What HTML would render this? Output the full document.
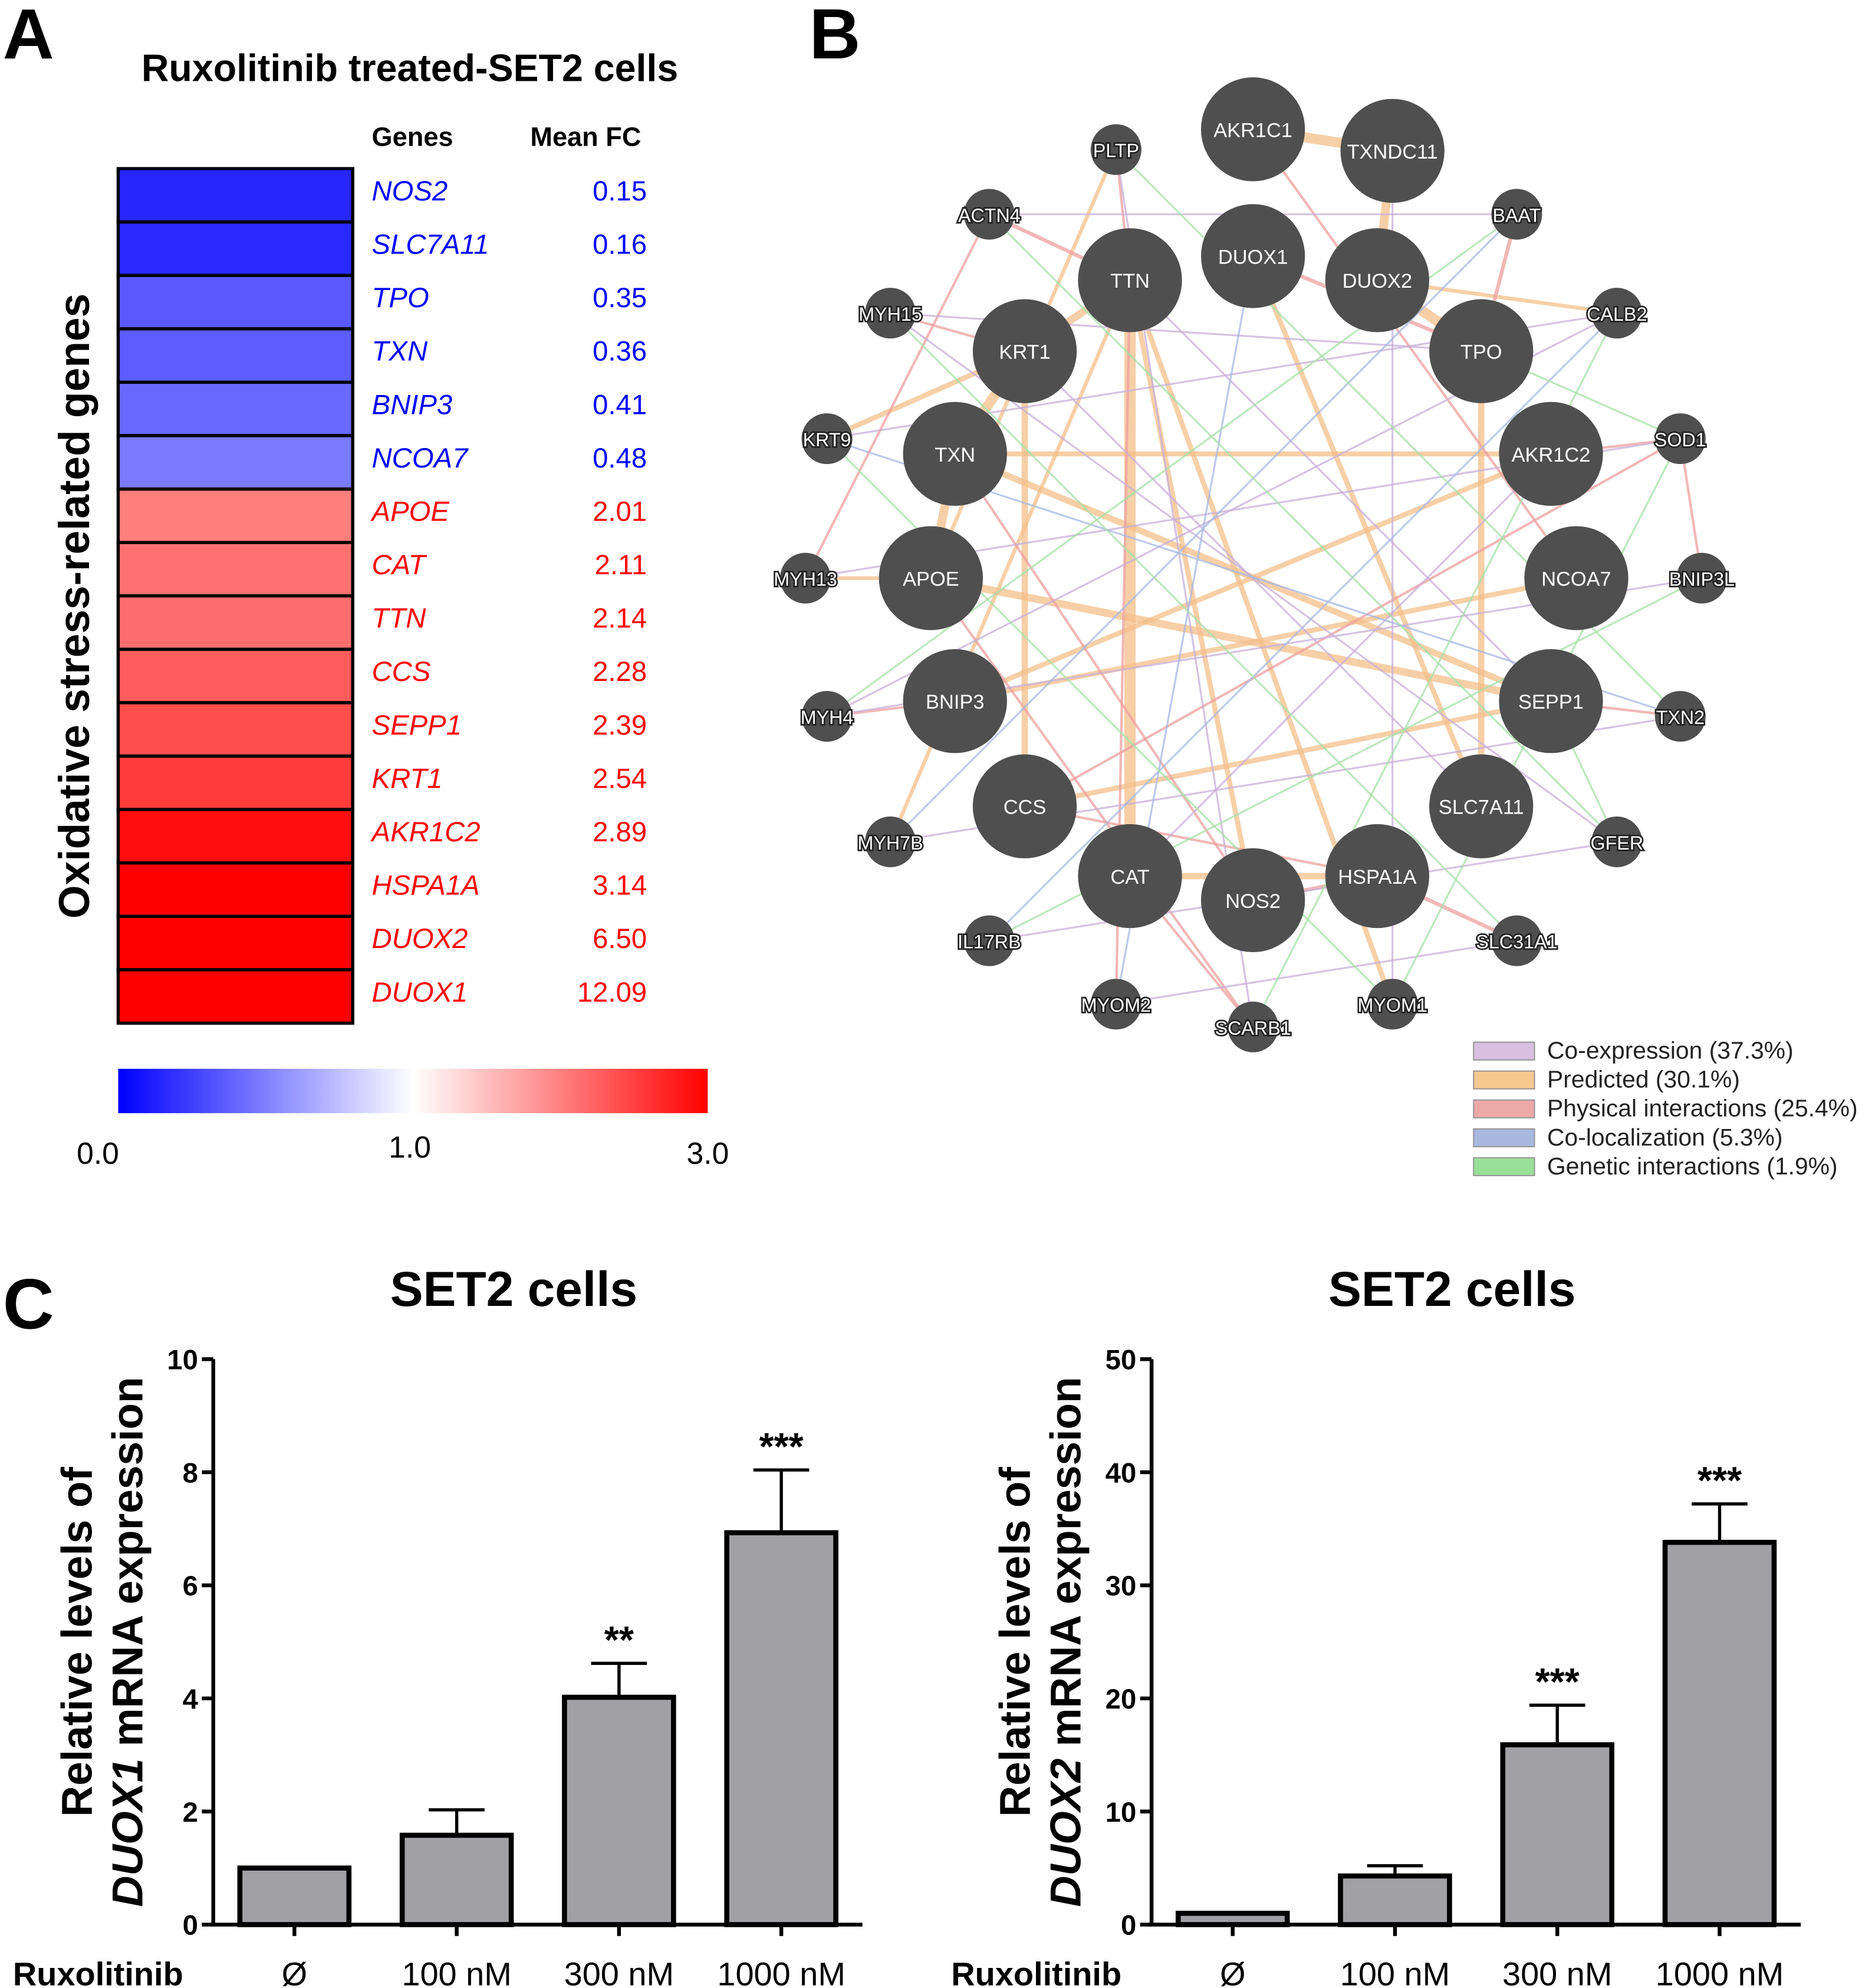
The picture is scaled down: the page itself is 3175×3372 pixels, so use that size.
<!DOCTYPE html>
<html><head><meta charset="utf-8"><style>
html,body{margin:0;padding:0;background:#fff}
svg{display:block;font-family:"Liberation Sans",Arial,sans-serif}
</style></head><body>
<svg id="s" width="3175" height="3372" viewBox="0 0 1476 1568" xmlns="http://www.w3.org/2000/svg">
<text x="2" y="46" font-size="56" font-weight="bold">A</text>
<text x="323" y="64" font-size="30" font-weight="bold" text-anchor="middle">Ruxolitinib treated-SET2 cells</text>
<text x="293" y="115" font-size="21" font-weight="bold">Genes</text>
<text x="418" y="115" font-size="21" font-weight="bold">Mean FC</text>
<text transform="translate(70,478) rotate(-90)" font-size="34" font-weight="bold" text-anchor="middle">Oxidative stress-related genes</text>
<g id="heat"></g>
<defs><linearGradient id="cb" x1="0" x2="1"><stop offset="0" stop-color="#0000ff"/><stop offset="0.5" stop-color="#ffffff"/><stop offset="1" stop-color="#ff0000"/></linearGradient></defs>
<rect x="93" y="843" width="465" height="35" fill="url(#cb)"/>
<text x="77" y="918" font-size="24" text-anchor="middle">0.0</text>
<text x="323" y="913" font-size="24" text-anchor="middle">1.0</text>
<text x="558" y="918" font-size="24" text-anchor="middle">3.0</text>

<text x="638" y="46" font-size="56" font-weight="bold">B</text>
<g id="edges"></g>
<g id="nodes"></g>
<g id="legend"></g>

<text x="2" y="1048" font-size="56" font-weight="bold">C</text>
<g id="c1"></g>
<g id="c2"></g>
</svg>
<script>
const NS="http://www.w3.org/2000/svg";
function mk(p,t,a,txt){const e=document.createElementNS(NS,t);for(const k in a)e.setAttribute(k,a[k]);if(txt!==undefined)e.textContent=txt;p.appendChild(e);return e;}

// Heatmap data
const heatGenes=["NOS2","SLC7A11","TPO","TXN","BNIP3","NCOA7","APOE","CAT","TTN","CCS","SEPP1","KRT1","AKR1C2","HSPA1A","DUOX2","DUOX1"];
const heatValues=[0.15,0.16,0.35,0.36,0.41,0.48,2.01,2.11,2.14,2.28,2.39,2.54,2.89,3.14,6.50,12.09];
const heatLabels=["0.15","0.16","0.35","0.36","0.41","0.48","2.01","2.11","2.14","2.28","2.39","2.54","2.89","3.14","6.50","12.09"];
function heatColor(v){if(v<1){const c=Math.round(255*v);return `rgb(${c},${c},255)`;}const t=Math.min(1,(v-1)/2);const c=Math.round(255*(1-t));return `rgb(255,${c},${c})`;}
const heat=document.getElementById('heat');
const rowH=(807-133)/heatGenes.length;
heatGenes.forEach((g,i)=>{
 const y=133+i*rowH,v=heatValues[i];
 const r=mk(heat,'rect',{x:93,y:y,width:185,height:rowH,fill:heatColor(v),stroke:'#000','stroke-width':2.5});
 
 
 const col=v<1?'#0000ff':'#ff0000';
 const t1=mk(heat,'text',{x:293,y:y+rowH/2+4,'font-size':22,'font-style':'italic',fill:col},g);
 
 
 const t2=mk(heat,'text',{x:510,y:y+rowH/2+4,'font-size':22,'text-anchor':'end',fill:col},heatLabels[i]);
 
 
});

// Network
const nodeNames=["AKR1C1","TXNDC11","PLTP","BAAT","ACTN4","TTN","DUOX1","DUOX2","MYH15","CALB2","KRT1","TPO","KRT9","TXN","AKR1C2","SOD1","MYH13","APOE","NCOA7","BNIP3L","MYH4","BNIP3","SEPP1","TXN2","CCS","SLC7A11","MYH7B","GFER","CAT","NOS2","HSPA1A","IL17RB","SLC31A1","MYOM2","SCARB1","MYOM1"];
const nodeX=[988,1098,880,1196,780,891,988,1086,702,1275,808,1168,652,753,1223,1325,635,734,1243,1342,652,753,1223,1325,808,1168,702,1275,891,988,1086,780,1196,880,988,1098];
const nodeY=[102,119,118,169,169,221,202,221,247,247,277,277,346,358,358,346,456,456,456,456,565,553,553,565,636,636,664,664,691,710,691,742,742,792,810,792];
const nodeBig=[1,1,0,0,0,1,1,1,0,0,1,1,0,1,1,0,0,1,1,0,0,1,1,0,1,1,0,0,1,1,1,0,0,0,0,0];
const edgeList=[
["TTN","CAT","#f5c08a",9],["KRT1","TXN","#f5c08a",8],["TXN","APOE","#f5c08a",7],["AKR1C1","TXNDC11","#f5c08a",8],["TXNDC11","DUOX2","#f5c08a",7],
["DUOX2","TPO","#f5c08a",8],["TPO","SLC7A11","#f5c08a",5],["APOE","SEPP1","#f5c08a",6],["TXN","SEPP1","#f5c08a",5],["KRT1","CCS","#f5c08a",5],
["TTN","KRT1","#f5c08a",6],["BNIP3","NCOA7","#f5c08a",4],["CAT","HSPA1A","#f5c08a",5],["TTN","MYOM1","#f5c08a",4],["DUOX1","SLC7A11","#f5c08a",4],
["AKR1C2","BNIP3","#f5c08a",4],["TXN","AKR1C2","#f5c08a",4],["PLTP","APOE","#f5c08a",3],["TTN","NOS2","#f5c08a",4],["SEPP1","CCS","#f5c08a",4],
["KRT1","KRT9","#f5c08a",4],["MYH13","APOE","#f5c08a",3],["TTN","MYH7B","#f5c08a",3],["DUOX2","CALB2","#f5c08a",3],
["NOS2","HSPA1A","#eea0a0",3],["HSPA1A","SLC31A1","#eea0a0",3],["TPO","BAAT","#eea0a0",3],["ACTN4","TTN","#eea0a0",3],["PLTP","TTN","#eea0a0",2],
["CAT","SCARB1","#eea0a0",2],["SOD1","CCS","#eea0a0",2],["AKR1C2","SOD1","#eea0a0",2],["TXN","NOS2","#eea0a0",2],["KRT1","MYH15","#eea0a0",2],
["APOE","SCARB1","#eea0a0",2],["DUOX1","TPO","#eea0a0",3],["BNIP3L","SOD1","#eea0a0",2],["TXN2","SEPP1","#eea0a0",2],["MYH4","BNIP3","#eea0a0",2],
["AKR1C1","NCOA7","#eea0a0",2],["CCS","HSPA1A","#eea0a0",2],["TTN","MYOM2","#eea0a0",2],["ACTN4","MYH13","#eea0a0",2],
["MYH15","TPO","#c8b0d8",1.5],["KRT9","CALB2","#c8b0d8",1.5],["MYH13","SOD1","#c8b0d8",1.5],["MYH4","BNIP3L","#c8b0d8",1.5],["MYH7B","TXN2","#c8b0d8",1.5],
["IL17RB","GFER","#c8b0d8",1.5],["MYOM2","SLC31A1","#c8b0d8",1.5],["ACTN4","BAAT","#c8b0d8",1.5],["PLTP","SCARB1","#c8b0d8",1.5],["TXNDC11","MYOM1","#c8b0d8",1.5],
["KRT1","SLC7A11","#c8b0d8",1.5],["TTN","SEPP1","#c8b0d8",1.5],["CAT","AKR1C2","#c8b0d8",1.5],["MYH15","GFER","#c8b0d8",1.5],["CALB2","MYH4","#c8b0d8",1.5],
["BAAT","MYH7B","#a8b8e0",1.5],["KRT9","TXN2","#a8b8e0",1.5],["IL17RB","CALB2","#a8b8e0",1.5],["DUOX1","MYOM2","#a8b8e0",1.5],
["SOD1","MYOM1","#a8e0a8",1.5],["MYH15","SLC31A1","#a8e0a8",1.5],["ACTN4","GFER","#a8e0a8",1.5],["BNIP3L","IL17RB","#a8e0a8",1.5],["CALB2","SCARB1","#a8e0a8",1.5],
["KRT9","MYOM1","#a8e0a8",1.5],["PLTP","TXN2","#a8e0a8",1.5],["BAAT","MYH4","#a8e0a8",1.5],["SEPP1","GFER","#a8e0a8",1.5],["TPO","SOD1","#a8e0a8",1.5]];
const eg=document.getElementById('edges');
edgeList.forEach(e=>{const a=nodeNames.indexOf(e[0]),b=nodeNames.indexOf(e[1]);
 const l=mk(eg,'line',{x1:nodeX[a],y1:nodeY[a],x2:nodeX[b],y2:nodeY[b],stroke:e[2],'stroke-width':e[3],opacity:0.75});
 
 });
const ng=document.getElementById('nodes');
nodeNames.forEach((n,i)=>{const big=nodeBig[i];const r=big?41:20;
 const c=mk(ng,'circle',{cx:nodeX[i],cy:nodeY[i],r:r,fill:'#4f4f4f'});
 
 
 const t=mk(ng,'text',{x:nodeX[i],y:nodeY[i]+6,'font-size':big?16:15,'text-anchor':'middle',fill:'#fff',stroke:big?'none':'#222','stroke-width':2.5,'paint-order':'stroke'},n);
 
 });
const legNames=["Co-expression (37.3%)","Predicted (30.1%)","Physical interactions (25.4%)","Co-localization (5.3%)","Genetic interactions (1.9%)"];
const legColors=["#d8c0e0","#f5c890","#eea8a8","#a8b8e0","#98e098"];
const lg=document.getElementById('legend');
legNames.forEach((n,i)=>{const y=822+i*22.8;
 const r=mk(lg,'rect',{x:1162,y:y,width:48,height:14,fill:legColors[i],stroke:'#999','stroke-width':1});
 
 
 const t=mk(lg,'text',{x:1220,y:y+13,'font-size':19,fill:'#222'},n);
 
 });

// Bar charts
const barCats=["Ø","100 nM","300 nM","1000 nM"];
const duox1Values=[1.0,1.58,4.02,6.93];
const duox1Errors=[0,0.45,0.6,1.11];
const duox1Stars=["","","**","***"];
const duox1Ticks=[0,2,4,6,8,10];
const duox2Values=[1.0,4.3,15.9,33.8];
const duox2Errors=[0,0.9,3.5,3.4];
const duox2Stars=["","","***","***"];
const duox2Ticks=[0,10,20,30,40,50];
function chart(g,x0,x1,ymax,vals,errs,stars,ticks,gene,titleX,ruxX){
 const y0=1518,yTop=1072;const ys=v=>y0-(v/ymax)*(y0-yTop);
 const t=mk(g,'text',{x:titleX,y:1030,'font-size':39,'font-weight':'bold','text-anchor':'middle'},'SET2 cells');
 
 const bw=(x1-x0)/barCats.length;
 barCats.forEach((c,i)=>{const cx=x0+bw*(i+0.5);const v=vals[i];
  if(errs[i]>0){const top=ys(v+errs[i]);
   const e=mk(g,'path',{d:`M${cx},${ys(v)}V${top}M${cx-22},${top}H${cx+22}`,stroke:'#000','stroke-width':2.5,fill:'none'});
   }
  const b=mk(g,'rect',{x:cx-43,y:ys(v),width:86,height:y0-ys(v),fill:'#a0a0a5',stroke:'#000','stroke-width':4});
  
  if(stars[i]){const s=mk(g,'text',{x:cx,y:ys(v+errs[i])-8,'font-size':30,'font-weight':'bold','text-anchor':'middle'},stars[i]);
   }
  const xl=mk(g,'text',{x:cx,y:1566,'font-size':26,'text-anchor':'middle'},c);
  
  const tk=mk(g,'line',{x1:cx,y1:y0,x2:cx,y2:y0+9,stroke:'#000','stroke-width':3});
  
 });
 const ax=mk(g,'path',{d:`M${x0},${yTop}V${y0}H${x1}`,stroke:'#000','stroke-width':3,fill:'none'});
 
 ticks.forEach(v=>{const y=ys(v);
  const l=mk(g,'line',{x1:x0-9,y1:y,x2:x0,y2:y,stroke:'#000','stroke-width':3});
  
  const tl=mk(g,'text',{x:x0-12,y:y+8,'font-size':22,'font-weight':'bold','text-anchor':'end'},String(v));
  });
 const rx=mk(g,'text',{x:ruxX,y:1566,'font-size':26,'font-weight':'bold'},'Ruxolitinib');
 
 const l1=mk(g,'text',{transform:`translate(${x0-96},1295) rotate(-90)`,'font-size':34,'font-weight':'bold','text-anchor':'middle'},'Relative levels of');
 
 const l2=mk(g,'text',{transform:`translate(${x0-56},1295) rotate(-90)`,'font-size':34,'font-weight':'bold','text-anchor':'middle'});
 
 mk(l2,'tspan',{'font-style':'italic'},gene);mk(l2,'tspan',{},' mRNA expression');
}
chart(document.getElementById('c1'),168,680,10,duox1Values,duox1Errors,duox1Stars,duox1Ticks,'DUOX1',405,10);
chart(document.getElementById('c2'),908,1420,50,duox2Values,duox2Errors,duox2Stars,duox2Ticks,'DUOX2',1145,750);
</script>
</body></html>
